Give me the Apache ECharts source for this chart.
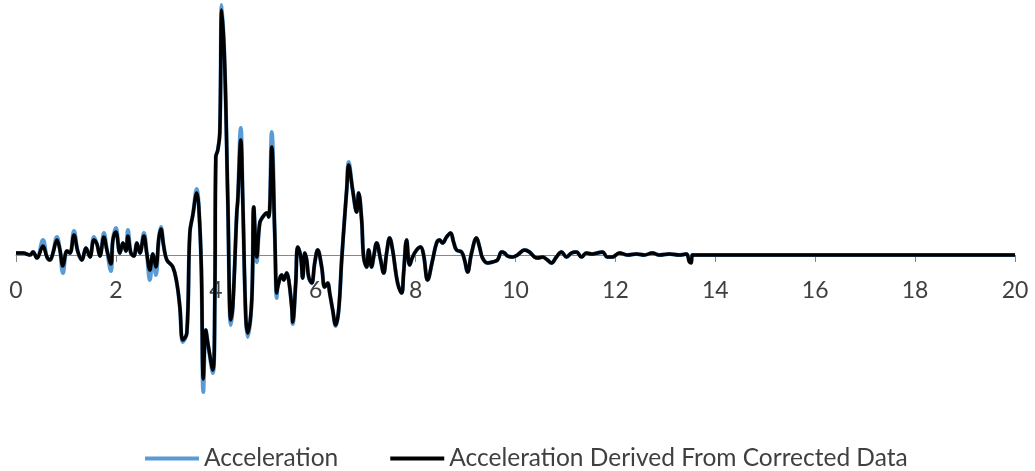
<!DOCTYPE html>
<html>
<head>
<meta charset="utf-8">
<script src="https://cdn.jsdelivr.net/npm/echarts@6/dist/echarts.min.js"></script>
<style>
html,body{margin:0;padding:0;background:#fff;}
#chart{width:1035px;height:471px;}
</style>
</head>
<body>
<div id="chart"></div>
<script>
// Time (s)
const times = [
0.00,0.14,0.28,0.34,0.42,0.54,0.62,0.68,0.74,0.82,0.88,0.94,1.02,1.08,1.16,1.24,1.32,1.40,1.48,1.56,
1.62,1.68,1.76,1.82,1.90,1.94,2.00,2.08,2.14,2.20,2.24,2.30,2.36,2.42,2.48,2.56,2.62,2.68,2.74,2.80,
2.86,2.90,2.96,3.02,3.14,3.22,3.28,3.34,3.42,3.48,3.54,3.62,3.66,3.71,3.75,3.80,3.84,3.94,3.98,4.00,
4.04,4.08,4.12,4.18,4.24,4.30,4.34,4.42,4.44,4.50,4.54,4.60,4.64,4.72,4.76,4.82,4.88,4.94,5.02,5.06,
5.12,5.18,5.22,5.24,5.32,5.36,5.42,5.46,5.52,5.54,5.60,5.64,5.70,5.74,5.78,5.82,5.86,5.92,5.98,6.04,
6.12,6.18,6.24,6.28,6.34,6.40,6.46,6.52,6.58,6.62,6.66,6.74,6.82,6.86,6.92,6.96,7.02,7.06,7.12,7.16,
7.22,7.30,7.36,7.42,7.48,7.54,7.64,7.72,7.76,7.82,7.88,7.94,8.02,8.10,8.16,8.24,8.34,8.42,8.48,8.54,
8.62,8.70,8.76,8.82,8.92,8.98,9.04,9.12,9.22,9.28,9.34,9.44,9.54,9.64,9.72,9.78,9.84,9.94,10.04,10.18,
10.28,10.38,10.44,10.54,10.64,10.72,10.82,10.92,11.02,11.12,11.22,11.32,11.42,11.52,11.64,11.74,11.84,11.94,12.08,12.24,
12.42,12.58,12.74,12.88,13.08,13.28,13.42,13.48,13.52,13.54,20.00
];

// Acceleration (blue)
const accel = [
0.002,0.002,0.000,0.003,-0.003,0.015,-0.002,-0.005,0.002,0.018,0.005,-0.018,0.004,0.002,0.024,0.003,-0.005,0.007,-0.002,0.018,
0.011,-0.001,0.022,0.005,-0.016,0.015,0.027,0.002,0.012,0.004,0.025,0.002,-0.001,0.012,0.002,0.022,0.001,-0.025,0.001,-0.020,
0.017,0.028,0.008,-0.005,-0.012,-0.028,-0.052,-0.087,-0.078,0.022,0.040,0.066,0.048,-0.012,-0.137,-0.075,-0.088,-0.118,-0.045,0.098,
0.105,0.122,0.250,0.188,0.055,-0.070,-0.052,0.042,0.055,0.127,0.055,-0.062,-0.082,-0.045,0.048,-0.007,0.032,0.038,0.042,0.038,
0.123,0.022,-0.043,-0.032,-0.020,-0.025,-0.018,-0.025,-0.052,-0.069,-0.028,0.008,-0.002,-0.023,0.002,-0.005,-0.022,-0.028,-0.008,0.005,
-0.012,-0.032,-0.028,-0.038,-0.055,-0.071,-0.055,-0.005,0.038,0.065,0.093,0.065,0.043,0.062,0.035,-0.002,-0.012,0.005,-0.012,-0.002,
0.012,-0.005,-0.018,0.002,0.017,0.005,-0.028,-0.038,-0.018,0.015,-0.010,-0.002,0.005,0.008,0.000,-0.025,-0.005,0.012,0.015,0.012,
0.018,0.022,0.013,0.005,0.003,-0.005,-0.017,0.002,0.017,0.008,-0.003,-0.008,-0.007,-0.005,0.003,0.002,-0.001,-0.002,0.000,0.005,
0.003,-0.002,-0.003,-0.002,-0.005,-0.008,-0.002,0.003,-0.002,0.002,0.003,-0.002,0.002,0.001,0.002,0.003,-0.002,-0.002,0.002,0.000,
0.001,0.000,0.002,0.000,0.001,0.000,0.001,-0.002,-0.002,0.000,0.000
];

// Acceleration Derived From Corrected Data (black)
const derived = [
0.002,0.002,0.000,0.003,-0.003,0.009,-0.002,-0.005,0.002,0.015,0.005,-0.011,0.004,0.002,0.020,0.003,-0.005,0.007,-0.002,0.015,
0.011,-0.001,0.018,0.005,-0.009,0.015,0.023,0.002,0.012,0.004,0.019,0.002,-0.001,0.012,0.002,0.019,0.001,-0.015,0.001,-0.012,
0.017,0.026,0.008,-0.005,-0.012,-0.028,-0.052,-0.085,-0.078,0.022,0.040,0.062,0.048,-0.012,-0.124,-0.075,-0.088,-0.115,-0.045,0.098,
0.105,0.122,0.245,0.188,0.055,-0.065,-0.052,0.042,0.055,0.115,0.055,-0.062,-0.078,-0.045,0.048,-0.002,0.032,0.038,0.042,0.038,
0.108,0.022,-0.038,-0.032,-0.020,-0.025,-0.018,-0.025,-0.052,-0.067,-0.028,0.008,-0.002,-0.023,0.002,-0.005,-0.022,-0.028,-0.008,0.005,
-0.012,-0.032,-0.028,-0.038,-0.055,-0.070,-0.055,-0.005,0.038,0.065,0.090,0.065,0.043,0.062,0.035,-0.002,-0.012,0.005,-0.012,-0.002,
0.012,-0.005,-0.018,0.002,0.017,0.005,-0.028,-0.038,-0.018,0.015,-0.010,-0.002,0.005,0.008,0.000,-0.025,-0.005,0.012,0.015,0.012,
0.018,0.022,0.013,0.005,0.003,-0.005,-0.017,0.002,0.017,0.008,-0.003,-0.008,-0.007,-0.005,0.003,0.002,-0.001,-0.002,0.000,0.005,
0.003,-0.002,-0.003,-0.002,-0.005,-0.008,-0.002,0.003,-0.002,0.002,0.003,-0.002,0.002,0.001,0.002,0.003,-0.002,-0.002,0.002,0.000,
0.001,0.000,0.002,0.000,0.001,0.000,0.001,-0.007,-0.008,0.000,0.000
];

const xTicks = [0, 2, 4, 6, 8, 10, 12, 14, 16, 18, 20];
const seriesNames = ['Acceleration', 'Acceleration Derived From Corrected Data'];

const chart = echarts.init(document.getElementById('chart'), null, {renderer: 'canvas'});
const font = 'Lato, "Open Sans", sans-serif';

chart.setOption({
  animation: false,
  backgroundColor: '#ffffff',
  grid: {left: 16, right: 20, top: 0, height: 400, containLabel: false},
  legend: {
    left: 140,
    top: 441,
    icon: 'rect',
    itemWidth: 54,
    itemHeight: 4,
    itemGap: 52,
    textStyle: {fontFamily: font, fontSize: 24.5, color: '#404040'},
    data: seriesNames
  },
  xAxis: {
    type: 'value',
    min: xTicks[0],
    max: xTicks[xTicks.length - 1],
    interval: xTicks[1] - xTicks[0],
    position: 'bottom',
    offset: -145,
    axisLine: {onZero: false, lineStyle: {color: '#868686', width: 1}},
    axisTick: {show: true, length: 7, lineStyle: {color: '#868686'}},
    axisLabel: {fontFamily: font, fontSize: 23, color: '#404040', margin: 24},
    splitLine: {show: false}
  },
  yAxis: {
    type: 'value',
    show: false,
    min: -0.145,
    max: 0.255,
    splitLine: {show: false}
  },
  series: [
    {
      name: seriesNames[0],
      type: 'line',
      symbol: 'none',
      smooth: 0.4,
      clip: false,
      lineStyle: {color: '#5B9BD5', width: 4},
      itemStyle: {color: '#5B9BD5'},
      data: times.map((t, i) => [t, accel[i]])
    },
    {
      name: seriesNames[1],
      type: 'line',
      symbol: 'none',
      smooth: 0.4,
      clip: false,
      lineStyle: {color: '#000000', width: 3.5},
      itemStyle: {color: '#000000'},
      data: times.map((t, i) => [t, derived[i]])
    }
  ]
});
</script>
</body>
</html>
